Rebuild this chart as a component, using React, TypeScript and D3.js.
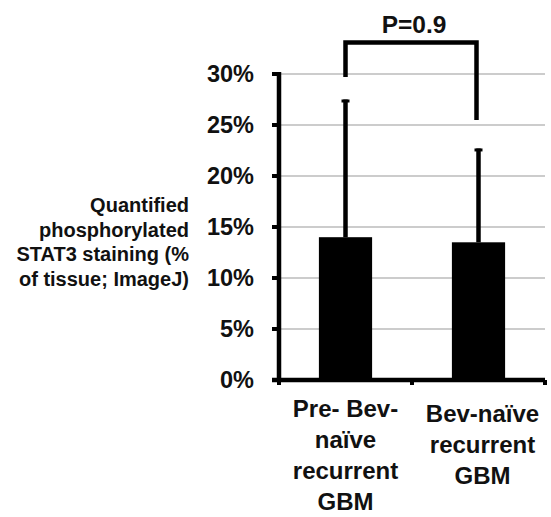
import React from 'react'
import * as d3 from 'd3'

// chart data
const categories = ['pre', 'naive']
const categoryLines = [
  ['Pre- Bev-', 'naïve', 'recurrent', 'GBM'],
  ['Bev-naïve', 'recurrent', 'GBM'],
]
const values = [0.14, 0.135]
const errors = [0.135, 0.092]
const yTicks = [0, 0.05, 0.1, 0.15, 0.2, 0.25, 0.3]
const yLabelLines = ['Quantified', 'phosphorylated', 'STAT3 staining (%', 'of tissue; ImageJ)']
const pLabel = 'P=0.9'
// bracket: top level, left leg end, right leg end (in data units)
const bracket = [0.331, 0.297, 0.255]

const W = 551
const H = 517
const margin = { left: 279, right: 6, top: 74, bottom: 137 }
const font = '"Liberation Sans", Arial, Helvetica, sans-serif'

const App = () => {
  const x = d3
    .scaleBand()
    .domain(categories)
    .range([margin.left, W - margin.right])
    .padding(0)
  const y = d3
    .scaleLinear()
    .domain([0, 0.3])
    .range([H - margin.bottom, margin.top])

  const bw = x.bandwidth() * 0.4
  const fmt = d3.format('.0%')
  const x0 = margin.left
  const x1 = W - margin.right
  const y0 = y(0)
  const cx = (c) => x(c) + x.bandwidth() / 2

  return (
    <svg
      width={W}
      height={H}
      style={{ position: 'absolute', left: 0, top: 0, background: '#fff' }}
      fontFamily={font}
      fontWeight="bold"
    >
      {/* gridlines */}
      {yTicks.slice(1).map((t) => (
        <line key={'g' + t} x1={x0} x2={x1} y1={y(t)} y2={y(t)} stroke="#9a9a9a" strokeWidth={1.2} />
      ))}

      {/* bars */}
      {categories.map((c, i) => (
        <rect key={c} x={cx(c) - bw / 2} y={y(values[i])} width={bw} height={y0 - y(values[i])} fill="#000" />
      ))}

      {/* error bars (upper only) */}
      {categories.map((c, i) => (
        <g key={'e' + c}>
          <line x1={cx(c)} x2={cx(c)} y1={y(values[i])} y2={y(values[i] + errors[i])} stroke="#000" strokeWidth={4.5} />
          <line
            x1={cx(c) - 4}
            x2={cx(c) + 4}
            y1={y(values[i] + errors[i]) + 1.5}
            y2={y(values[i] + errors[i]) + 1.5}
            stroke="#000"
            strokeWidth={3}
          />
        </g>
      ))}

      {/* y axis */}
      <line x1={x0} x2={x0} y1={y(0.3) - 2} y2={y0 + 2} stroke="#000" strokeWidth={4.5} />
      {yTicks.map((t) => (
        <g key={'t' + t}>
          <line x1={x0 - 7} x2={x0} y1={y(t)} y2={y(t)} stroke="#000" strokeWidth={4} />
          <text x={254} y={y(t)} dy="0.36em" textAnchor="end" fontSize={23.5} fill="#111">
            {fmt(t)}
          </text>
        </g>
      ))}

      {/* x axis */}
      <line x1={x0 - 7} x2={x1} y1={y0} y2={y0} stroke="#000" strokeWidth={4.5} />
      {[x0, ...categories.map((c) => x(c) + x.bandwidth())].map((v, i) => (
        <line key={'xt' + i} x1={v} x2={v} y1={y0} y2={y0 + 5} stroke="#000" strokeWidth={4} />
      ))}

      {/* category labels */}
      {categories.map((c, i) => (
        <text key={'l' + c} x={cx(c) + (i === 1 ? 4 : 0)} y={i === 0 ? 417 : 422} textAnchor="middle" fontSize={24} fill="#111">
          {categoryLines[i].map((ln, j) => (
            <tspan key={j} x={cx(c) + (i === 1 ? 4 : 0)} dy={j === 0 ? 0 : 31}>
              {ln}
            </tspan>
          ))}
        </text>
      ))}

      {/* y label */}
      <text x={189} y={212} textAnchor="end" fontSize={20} fill="#111">
        {yLabelLines.map((ln, j) => (
          <tspan key={j} x={189} dy={j === 0 ? 0 : 24.5}>
            {ln}
          </tspan>
        ))}
      </text>

      {/* significance bracket */}
      <path
        d={`M${cx(categories[0])},${y(bracket[1])}V${y(bracket[0])}H${cx(categories[1]) - 2}V${y(bracket[2])}`}
        fill="none"
        stroke="#000"
        strokeWidth={4.5}
      />
      <text x={(cx(categories[0]) + cx(categories[1])) / 2 + 2} y={33} textAnchor="middle" fontSize={24.5} fill="#111">
        {pLabel}
      </text>
    </svg>
  )
}

export default App
